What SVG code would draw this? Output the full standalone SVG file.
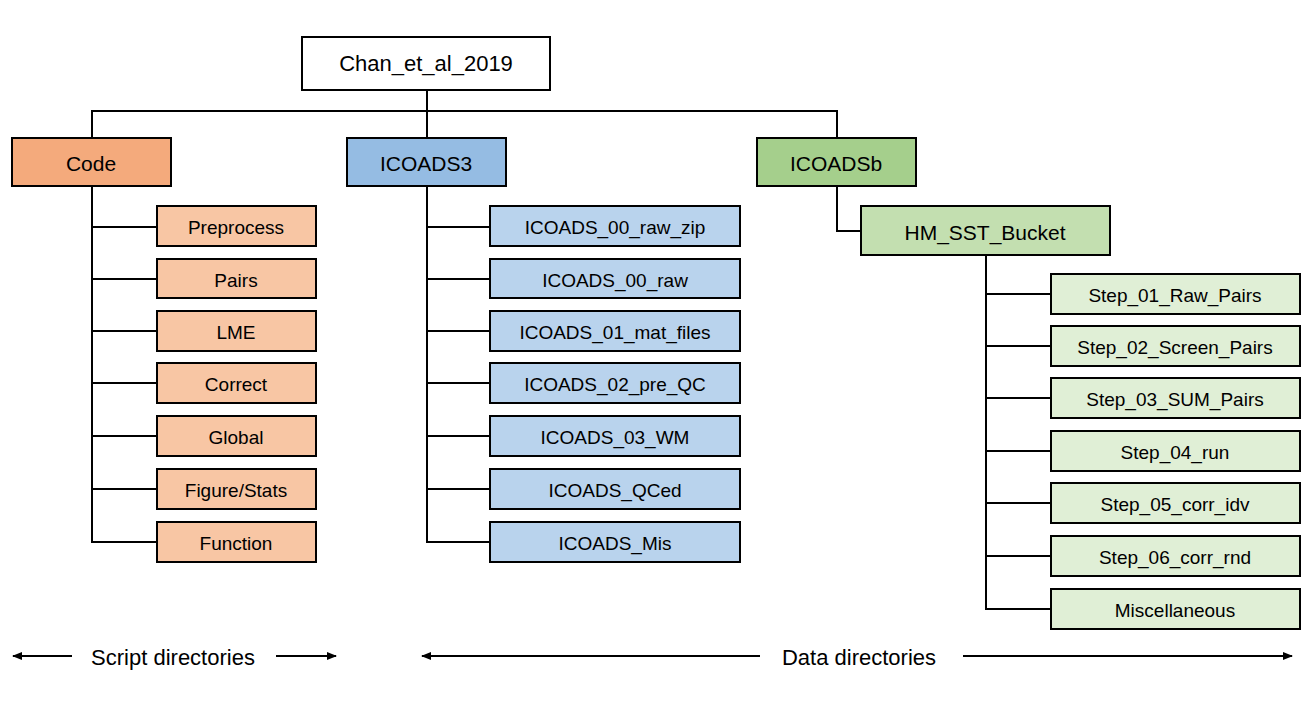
<svg xmlns="http://www.w3.org/2000/svg" width="1312" height="707" viewBox="0 0 1312 707">
<style>
  rect { stroke: #000; stroke-width: 2; }
  text { font-family: "Liberation Sans", Arial, sans-serif; font-size: 19px; fill: #000; text-anchor: middle; dominant-baseline: central; }
  .big { font-size: 21px; }
  .root-t { font-size: 22px; }
  .lbl { font-size: 22px; }
  .root { fill: #fff; }
  .o1 { fill: #F4AA7C; } .o2 { fill: #F8C6A4; }
  .b1 { fill: #95BCE3; } .b2 { fill: #B9D3ED; }
  .g1 { fill: #A5CF8C; } .g2 { fill: #C3DFB0; } .g3 { fill: #E0EFD6; }
  .conn path, .conn line { stroke: #000; stroke-width: 2; fill: none; }
</style>
<defs>
  <marker id="ah" viewBox="0 0 10 10" refX="9" refY="5" markerWidth="5" markerHeight="5" orient="auto-start-reverse">
    <path d="M0,1 L10,5 L0,9 z" fill="#000"/>
  </marker>
</defs>
<rect width="1312" height="707" fill="#fff" style="stroke:none"/>
<g class="conn">
  <path d="M427,90 V138"/>
  <path d="M92,138 V111 H837 V138"/>
  <path d="M92,186 V542 H157"/>
  <path d="M92,227 H157 M92,279 H157 M92,331 H157 M92,383 H157 M92,436 H157 M92,489 H157"/>
  <path d="M427,186 V542 H490"/>
  <path d="M427,227 H490 M427,279 H490 M427,331 H490 M427,383 H490 M427,436 H490 M427,489 H490"/>
  <path d="M837,186 V231 H861"/>
  <path d="M986,255 V609 H1051"/>
  <path d="M986,294 H1051 M986,346 H1051 M986,398 H1051 M986,451 H1051 M986,503 H1051 M986,556 H1051"/>
  <line x1="72" y1="656" x2="13" y2="656" marker-end="url(#ah)"/>
  <line x1="276" y1="656" x2="336" y2="656" marker-end="url(#ah)"/>
  <line x1="760" y1="656" x2="422" y2="656" marker-end="url(#ah)"/>
  <line x1="963" y1="656" x2="1292" y2="656" marker-end="url(#ah)"/>
</g>
<g id="root"><rect class="root" x="302" y="37" width="248" height="53"/><text class="root-t" x="426" y="63">Chan_et_al_2019</text></g>
<g id="code"><rect class="o1" x="12" y="138" width="159" height="48"/><text class="big" x="91" y="163">Code</text></g>
<g id="icoads3"><rect class="b1" x="347" y="138" width="159" height="48"/><text class="big" x="426" y="163">ICOADS3</text></g>
<g id="icoadsb"><rect class="g1" x="757" y="138" width="159" height="48"/><text class="big" x="836" y="163">ICOADSb</text></g>
<g id="preprocess"><rect class="o2" x="157" y="206" width="159" height="40"/><text x="236" y="227">Preprocess</text></g>
<g id="pairs"><rect class="o2" x="157" y="259" width="159" height="39"/><text x="236" y="280">Pairs</text></g>
<g id="lme"><rect class="o2" x="157" y="311" width="159" height="40"/><text x="236" y="332">LME</text></g>
<g id="correct"><rect class="o2" x="157" y="363" width="159" height="40"/><text x="236" y="384">Correct</text></g>
<g id="global"><rect class="o2" x="157" y="416" width="159" height="40"/><text x="236" y="437">Global</text></g>
<g id="figstats"><rect class="o2" x="157" y="469" width="159" height="40"/><text x="236" y="490">Figure/Stats</text></g>
<g id="function"><rect class="o2" x="157" y="522" width="159" height="40"/><text x="236" y="543">Function</text></g>
<g id="i00zip"><rect class="b2" x="490" y="206" width="250" height="40"/><text x="615" y="227">ICOADS_00_raw_zip</text></g>
<g id="i00raw"><rect class="b2" x="490" y="259" width="250" height="39"/><text x="615" y="280">ICOADS_00_raw</text></g>
<g id="i01"><rect class="b2" x="490" y="311" width="250" height="40"/><text x="615" y="332">ICOADS_01_mat_files</text></g>
<g id="i02"><rect class="b2" x="490" y="363" width="250" height="40"/><text x="615" y="384">ICOADS_02_pre_QC</text></g>
<g id="i03"><rect class="b2" x="490" y="416" width="250" height="40"/><text x="615" y="437">ICOADS_03_WM</text></g>
<g id="iqced"><rect class="b2" x="490" y="469" width="250" height="40"/><text x="615" y="490">ICOADS_QCed</text></g>
<g id="imis"><rect class="b2" x="490" y="522" width="250" height="40"/><text x="615" y="543">ICOADS_Mis</text></g>
<g id="hm"><rect class="g2" x="861" y="206" width="249" height="49"/><text class="big" x="985" y="232">HM_SST_Bucket</text></g>
<g id="s01"><rect class="g3" x="1051" y="274" width="249" height="40"/><text x="1175" y="295">Step_01_Raw_Pairs</text></g>
<g id="s02"><rect class="g3" x="1051" y="326" width="249" height="40"/><text x="1175" y="347">Step_02_Screen_Pairs</text></g>
<g id="s03"><rect class="g3" x="1051" y="378" width="249" height="40"/><text x="1175" y="399">Step_03_SUM_Pairs</text></g>
<g id="s04"><rect class="g3" x="1051" y="431" width="249" height="40"/><text x="1175" y="452">Step_04_run</text></g>
<g id="s05"><rect class="g3" x="1051" y="483" width="249" height="40"/><text x="1175" y="504">Step_05_corr_idv</text></g>
<g id="s06"><rect class="g3" x="1051" y="536" width="249" height="40"/><text x="1175" y="557">Step_06_corr_rnd</text></g>
<g id="misc"><rect class="g3" x="1051" y="589" width="249" height="40"/><text x="1175" y="610">Miscellaneous</text></g>
<text class="lbl" x="173" y="657">Script directories</text>
<text class="lbl" x="859" y="657">Data directories</text>
</svg>
